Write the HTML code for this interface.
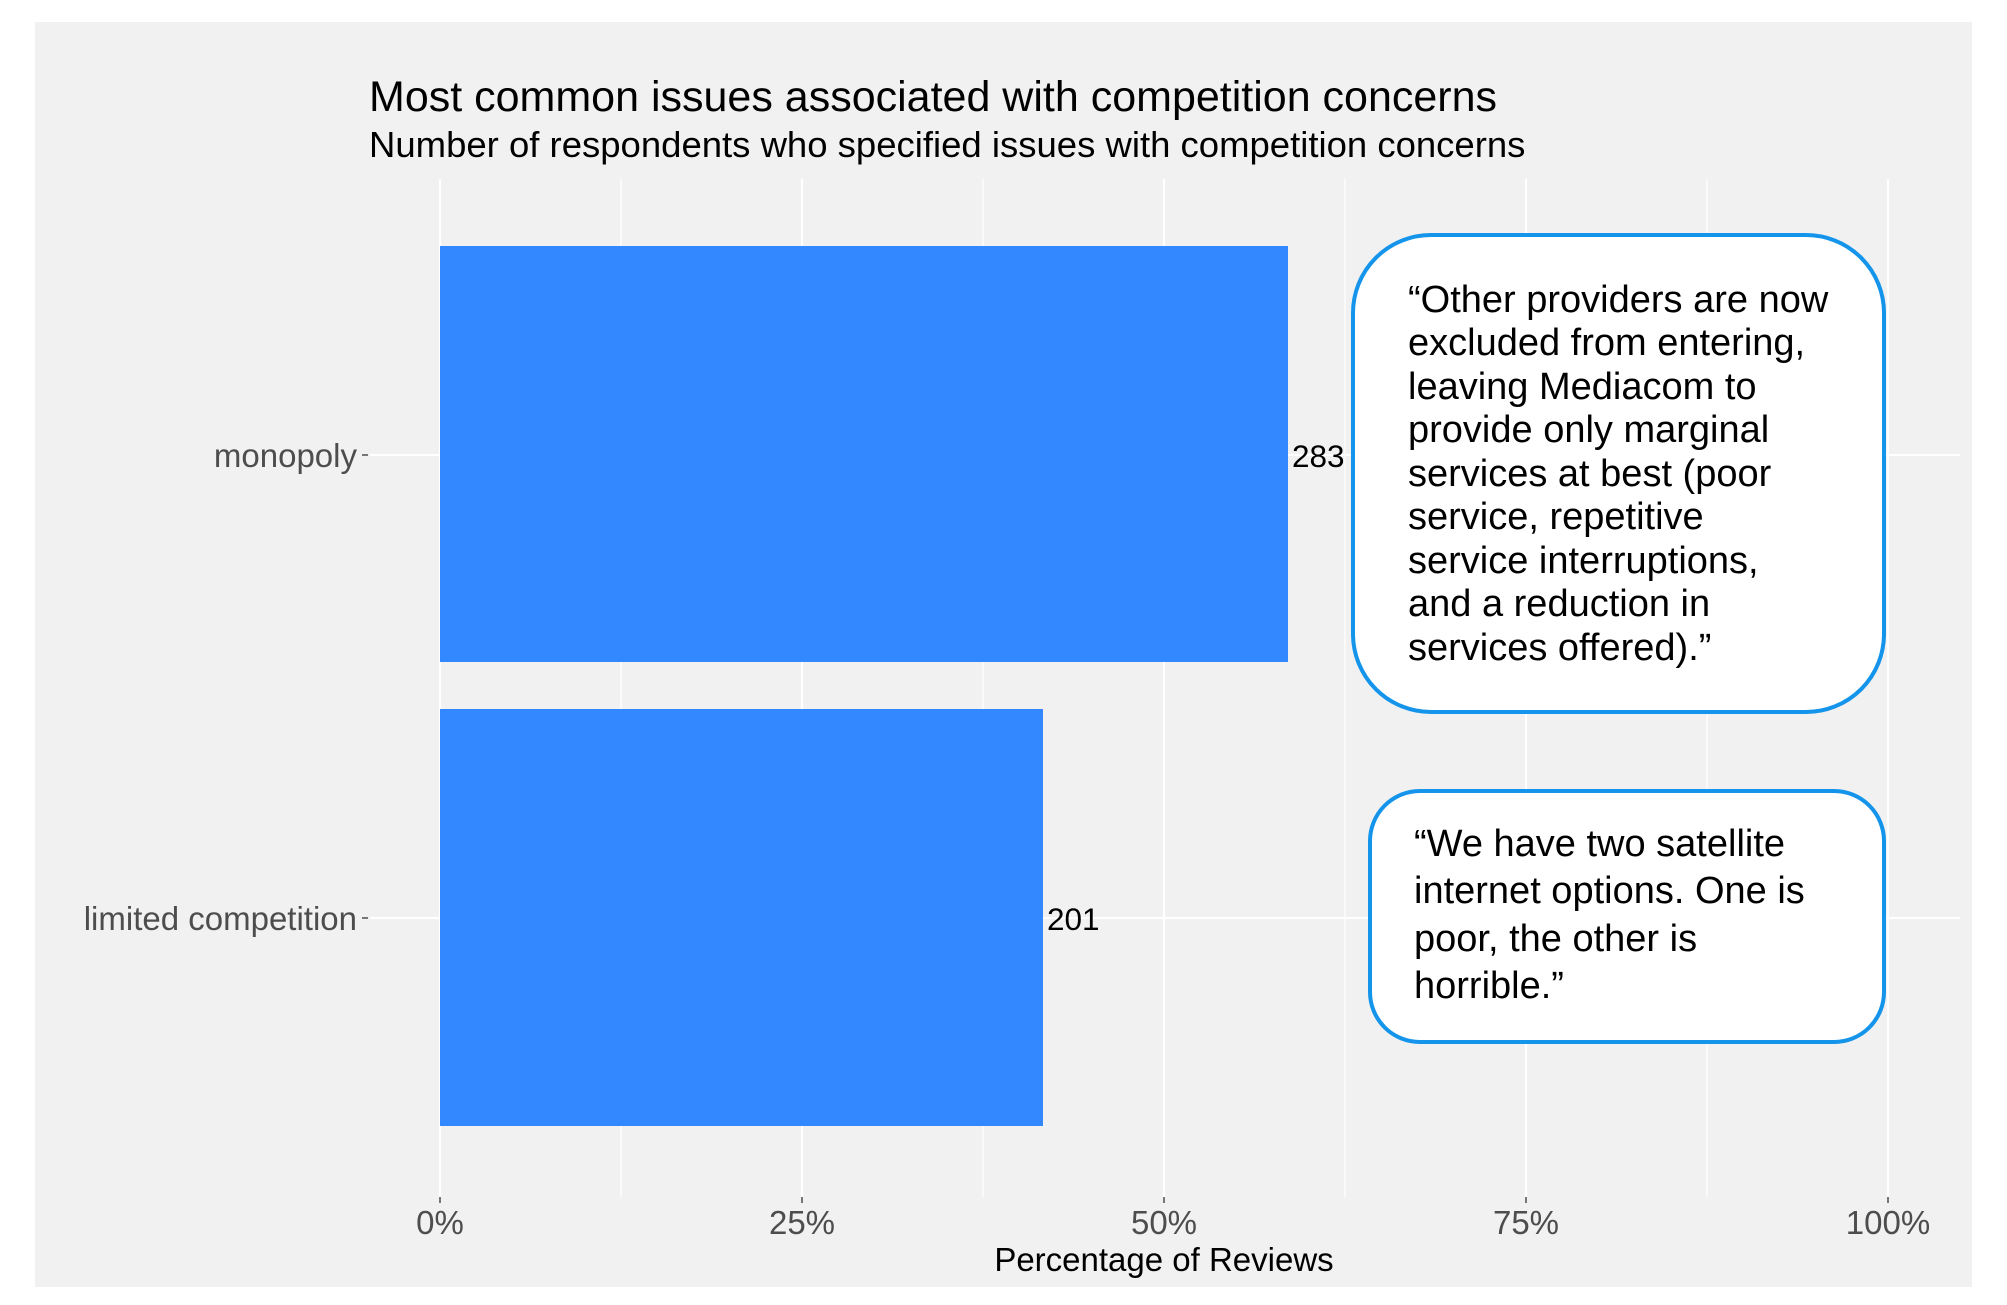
<!DOCTYPE html>
<html><head><meta charset="utf-8"><style>
html,body{margin:0;padding:0;background:#fff;}
svg{display:block;font-family:"Liberation Sans",Arial,sans-serif;}
</style></head><body>
<svg width="2007" height="1305" viewBox="0 0 2007 1305" xmlns="http://www.w3.org/2000/svg">
<rect x="35" y="22" width="1937" height="1265" fill="#f1f1f1"/>
<g stroke="#ffffff" stroke-width="1.2">
<line x1="621" y1="179" x2="621" y2="1197"/><line x1="983" y1="179" x2="983" y2="1197"/>
<line x1="1345" y1="179" x2="1345" y2="1197"/><line x1="1707" y1="179" x2="1707" y2="1197"/>
</g>
<g stroke="#ffffff" stroke-width="2.2">
<line x1="440" y1="179" x2="440" y2="1197"/><line x1="802" y1="179" x2="802" y2="1197"/>
<line x1="1164" y1="179" x2="1164" y2="1197"/><line x1="1526" y1="179" x2="1526" y2="1197"/>
<line x1="1888" y1="179" x2="1888" y2="1197"/>
<line x1="370" y1="455" x2="1960" y2="455"/><line x1="370" y1="918" x2="1960" y2="918"/>
</g>
<rect x="440" y="246" width="848" height="416" fill="#3388ff"/>
<rect x="440" y="709" width="603" height="417" fill="#3388ff"/>
<g stroke="#4d4d4d" stroke-width="1.5">
<line x1="362" y1="455" x2="368" y2="455"/><line x1="362" y1="918" x2="368" y2="918"/>
<line x1="440" y1="1197" x2="440" y2="1203"/><line x1="802" y1="1197" x2="802" y2="1203"/>
<line x1="1164" y1="1197" x2="1164" y2="1203"/><line x1="1526" y1="1197" x2="1526" y2="1203"/>
<line x1="1888" y1="1197" x2="1888" y2="1203"/>
</g>
<text x="369" y="111" font-size="43" fill="#000">Most common issues associated with competition concerns</text>
<text x="369" y="157" font-size="36.5" fill="#000">Number of respondents who specified issues with competition concerns</text>
<g font-size="33" fill="#4d4d4d" text-anchor="end">
<text x="357" y="467">monopoly</text>
<text x="357" y="930">limited competition</text>
</g>
<g font-size="33" fill="#4d4d4d" text-anchor="middle">
<text x="440" y="1234">0%</text><text x="802" y="1234">25%</text><text x="1164" y="1234">50%</text>
<text x="1526" y="1234">75%</text><text x="1888" y="1234">100%</text>
</g>
<text x="1164" y="1271" font-size="33" fill="#000" text-anchor="middle">Percentage of Reviews</text>
<g font-size="31.5" fill="#000">
<text x="1292" y="467">283</text><text x="1047" y="930">201</text>
</g>
<rect x="1353" y="235" width="531" height="477" rx="78" ry="78" fill="#fff" stroke="#1494ea" stroke-width="4"/>
<g font-size="38" fill="#000">
<text x="1408" y="312">“Other providers are now</text>
<text x="1408" y="355">excluded from entering,</text>
<text x="1408" y="399">leaving Mediacom to</text>
<text x="1408" y="442">provide only marginal</text>
<text x="1408" y="486">services at best (poor</text>
<text x="1408" y="529">service, repetitive</text>
<text x="1408" y="573">service interruptions,</text>
<text x="1408" y="616">and a reduction in</text>
<text x="1408" y="660">services offered).”</text>
</g>
<rect x="1370" y="791" width="514" height="251" rx="50" ry="50" fill="#fff" stroke="#1494ea" stroke-width="4"/>
<g font-size="38" fill="#000">
<text x="1414" y="856">“We have two satellite</text>
<text x="1414" y="903">internet options. One is</text>
<text x="1414" y="951">poor, the other is</text>
<text x="1414" y="998">horrible.”</text>
</g>
</svg>
</body></html>
